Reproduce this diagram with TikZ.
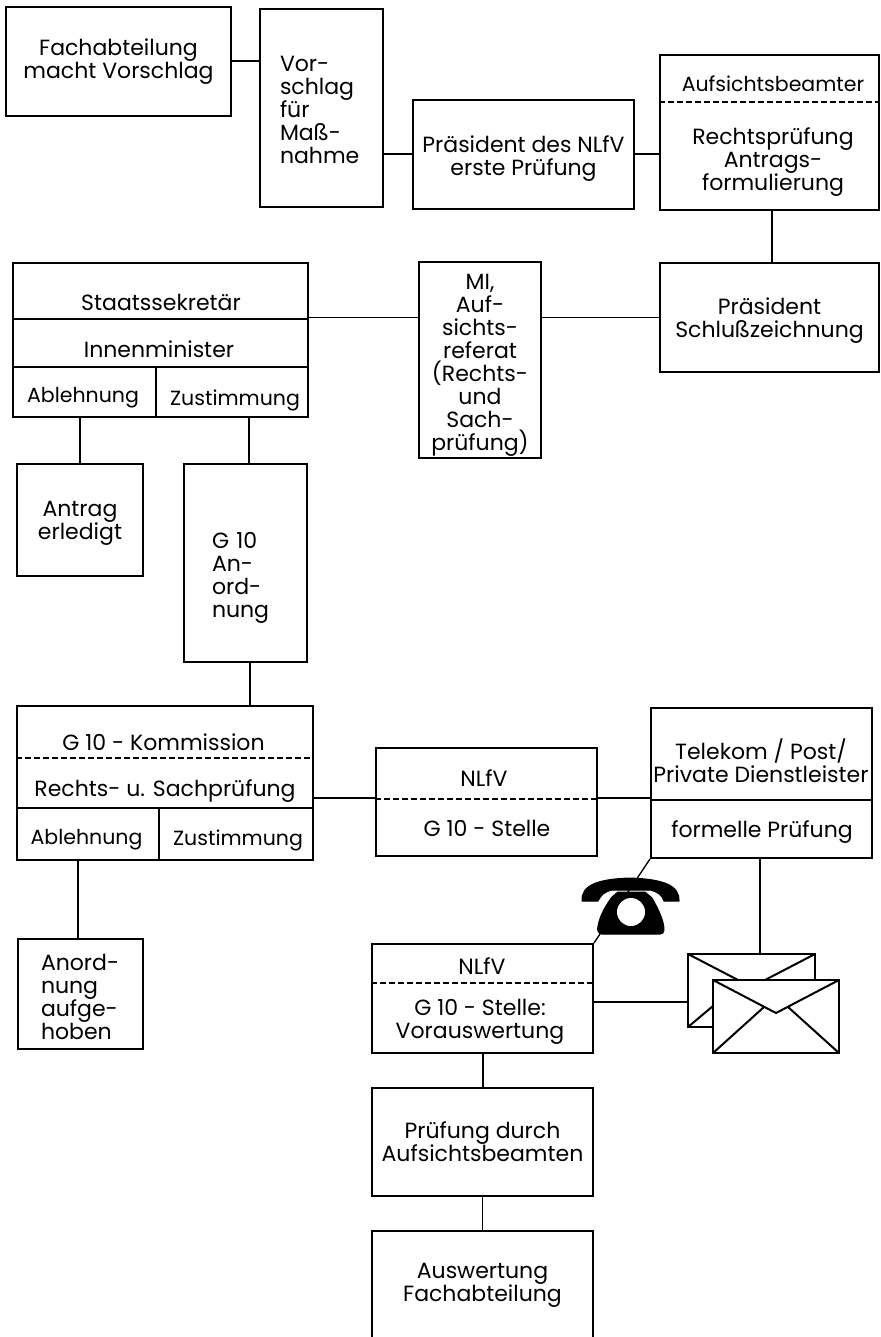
\documentclass[tikz,border=0pt]{standalone}
\usepackage{fontspec}
\setmainfont{Poppins}
\usepackage{tikz}
\usetikzlibrary{positioning}

\tikzset{
    kasten/.style={draw,line width=2pt,inner sep=0pt,align=center,font=\fontsize{22}{23}\selectfont},
    feld/.style={inner sep=0pt,align=center,font=\fontsize{22}{23}\selectfont},
    feldklein/.style={inner sep=0pt,align=center,font=\fontsize{20.5}{23}\selectfont},
    linie/.style={line width=1.3pt},
    dick/.style={line width=2pt},
    trenner/.style={line width=1.3pt,dash pattern=on 6pt off 3pt},
    hoerer/.style={fill=black,draw=black,line width=1pt,line join=round},
}

\begin{document}
\begin{tikzpicture}[x=1pt,y=-1pt]
\useasboundingbox (0,0) rectangle (880,1337);

% Obere Reihe
\node[kasten,minimum width=225pt,minimum height=109pt] at (118.5,61.5) (fach) {Fachabteilung\\macht Vorschlag};
\node[kasten,minimum width=123pt,minimum height=198pt] at (321.5,108) (vorschlag) {};
\node[feld,text width=83pt,align=left] at (321.5,110) (vorschlagA) {Vor-\\schlag\\für\\Maß-\\nahme};
\node[kasten,minimum width=221pt,minimum height=109pt] at (523.5,154.5) (erste) {};
\node[feld] at (523.5,159) (ersteA) {Präsident des NLfV\\erste Prüfung};
\node[kasten,minimum width=219pt,minimum height=155pt] at (769.5,132.5) (aufsicht) {};
\node[feldklein] at (773,84) (aufsichtA) {Aufsichtsbeamter};
\node[feld] at (773,162) (aufsichtB) {Rechtsprüfung\\Antrags-\\formulierung};
\draw[trenner] (aufsicht.west |- 0,102) -- (aufsicht.east |- 0,102);

% Zweite Reihe
\node[kasten,minimum width=219pt,minimum height=109pt] at (769.5,317.5) (schluss) {};
\node[feld] at (769.5,321) (schlussA) {Präsident\\Schlußzeichnung};
\node[kasten,minimum width=122pt,minimum height=196pt] at (480,360) (mi) {};
\node[feld] at (480,365) (miA) {MI,\\Auf-\\sichts-\\referat\\(Rechts-\\und\\Sach-\\prüfung)};
\node[kasten,minimum width=295.5pt,minimum height=154pt] at (160.25,340) (minister) {};
\node[feld] at (161,302) (ministerA) {Staatssekretär};
\node[feld] at (159,349) (ministerB) {Innenminister};
\node[feldklein] at (83,398) (ministerC) {Ablehnung};
\node[feldklein] at (235,400) (ministerD) {Zustimmung};
\draw[linie] (minister.west |- 0,319) -- (minister.east |- 0,319);
\draw[linie] (minister.west |- 0,367) -- (minister.east |- 0,367);
\draw[linie] (156,367) -- (156,417);

\node[kasten,minimum width=126pt,minimum height=112pt] at (80,520) (erledigt) {};
\node[feld] at (80,523) (erledigtA) {Antrag\\erledigt};
\node[kasten,minimum width=123pt,minimum height=198pt] at (245.5,563) (anordnung) {};
\node[feld,text width=67pt,align=left] at (245.5,578) (anordnungA) {G 10\\An-\\ord-\\nung};

% Kommission
\node[kasten,minimum width=296pt,minimum height=154pt] at (165,783) (kommission) {};
\node[feld] at (163.5,742) (kommissionA) {G 10 - Kommission};
\node[feld] at (165,791) (kommissionB) {Rechts- u. Sachprüfung};
\node[feldklein] at (86.5,840) (kommissionC) {Ablehnung};
\node[feldklein] at (238,840) (kommissionD) {Zustimmung};
\draw[trenner] (kommission.west |- 0,758) -- (kommission.east |- 0,758);
\draw[linie] (kommission.west |- 0,808) -- (kommission.east |- 0,808);
\draw[linie] (159,808) -- (159,860);

\node[kasten,minimum width=221pt,minimum height=108pt] at (486.5,802) (stelle) {};
\node[feld] at (484,778) (stelleA) {NLfV};
\node[feld] at (487,828) (stelleB) {G 10 - Stelle};
\draw[trenner] (stelle.west |- 0,799) -- (stelle.east |- 0,799);

\node[kasten,minimum width=221pt,minimum height=150pt] at (761.5,783) (telekom) {};
\node[feld] at (761,761) (telekomA) {Telekom / Post/\\Private Dienstleister};
\node[feld] at (762,832) (telekomB) {formelle Prüfung};
\draw[linie] (telekom.west |- 0,800) -- (telekom.east |- 0,800);

\node[kasten,minimum width=125pt,minimum height=110pt] at (80.5,994) (aufgehoben) {};
\node[feld,text width=79pt,align=left] at (80.5,997) (aufgehobenA) {Anord-\\nung\\aufge-\\hoben};

% Untere Spalte
\node[kasten,minimum width=221pt,minimum height=109pt] at (482.5,998.5) (voraus) {};
\node[feld] at (482,966) (vorausA) {NLfV};
\node[feld] at (480,1022) (vorausB) {G 10 - Stelle:\\Vorauswertung};
\draw[trenner] (voraus.west |- 0,983) -- (voraus.east |- 0,983);
\node[kasten,minimum width=221pt,minimum height=108pt] at (482.5,1142) (pruefung) {Prüfung durch\\Aufsichtsbeamten};
\node[kasten,minimum width=221pt,minimum height=108pt] at (482.5,1285) (auswertung) {Auswertung\\Fachabteilung};

% Verbindungen
\draw[dick] (fach.east) -- (fach.east -| vorschlag.west);
\draw[dick] (erste.west) -- (erste.west -| vorschlag.east);
\draw[dick] (erste.east) -- (erste.east -| aufsicht.west);
\draw[linie] (aufsicht.south -| 772,0) -- (schluss.north -| 772,0);
\draw[linie] (schluss.west) -- (schluss.west -| mi.east);
\draw[linie] (mi.west |- schluss.west) -- (minister.east |- schluss.west);
\draw[dick] (minister.south -| erledigt.north) -- (erledigt.north);
\draw[linie] (minister.south -| 249,0) -- (anordnung.north -| 249,0);
\draw[dick] (anordnung.south -| 250,0) -- (kommission.north -| 250,0);
\draw[linie] (kommission.east |- 0,798) -- (stelle.west |- 0,798);
\draw[linie] (stelle.east |- 0,798) -- (telekom.west |- 0,798);
\draw[dick] (aufgehoben.north -| 78,0) -- (kommission.south -| 78,0);
\draw[dick] (voraus.south) -- (pruefung.north);
\draw[linie] (pruefung.south) -- (auswertung.north);
\draw[linie] (telekom.south west) -- (voraus.north east);

% Telefon
\draw[hoerer] (582,901) .. controls (581,885) and (598,879) .. (630,878) .. controls (662,879) and (680,885) .. (679,901) -- (664,901) .. controls (662,895) and (658,892) .. (650,890) -- (612,890) .. controls (604,892) and (601,895) .. (598,901) -- cycle;
\draw[hoerer] (618,892) -- (645,892) -- (652,898) .. controls (660,912) and (664,922) .. (664,930) .. controls (664,933) and (662,934) .. (660,934) -- (602,934) .. controls (598,934) and (597,930) .. (598,926) .. controls (600,915) and (606,905) .. (612,897) -- cycle;
\fill[white] (631,912) circle (14pt);

% Umschlaege
\coordinate (briefA) at (688,954);
\coordinate (briefB) at (815,1027);
\coordinate (briefC) at (713,980);
\coordinate (briefD) at (839,1053);
\draw[linie] (voraus.east |- 0,1002) -- (briefA |- 0,1002);
\draw[dick] (telekom.south -| 760,0) -- (briefA -| 760,0);
\draw[dick,fill=white] (briefA) rectangle (briefB);
\draw[dick] (briefA) -- (738,980);
\draw[dick] (briefB |- briefA) -- (765,980);
\draw[dick] (briefA |- briefB) -- (713,1006);
\draw[dick,fill=white] (briefC) rectangle (briefD);
\draw[dick] (briefC) -- (776,1013) -- (briefD |- briefC);
\draw[dick] (briefC |- briefD) -- (764,1007);
\draw[dick] (briefD) -- (788,1007);

\end{tikzpicture}
\end{document}
